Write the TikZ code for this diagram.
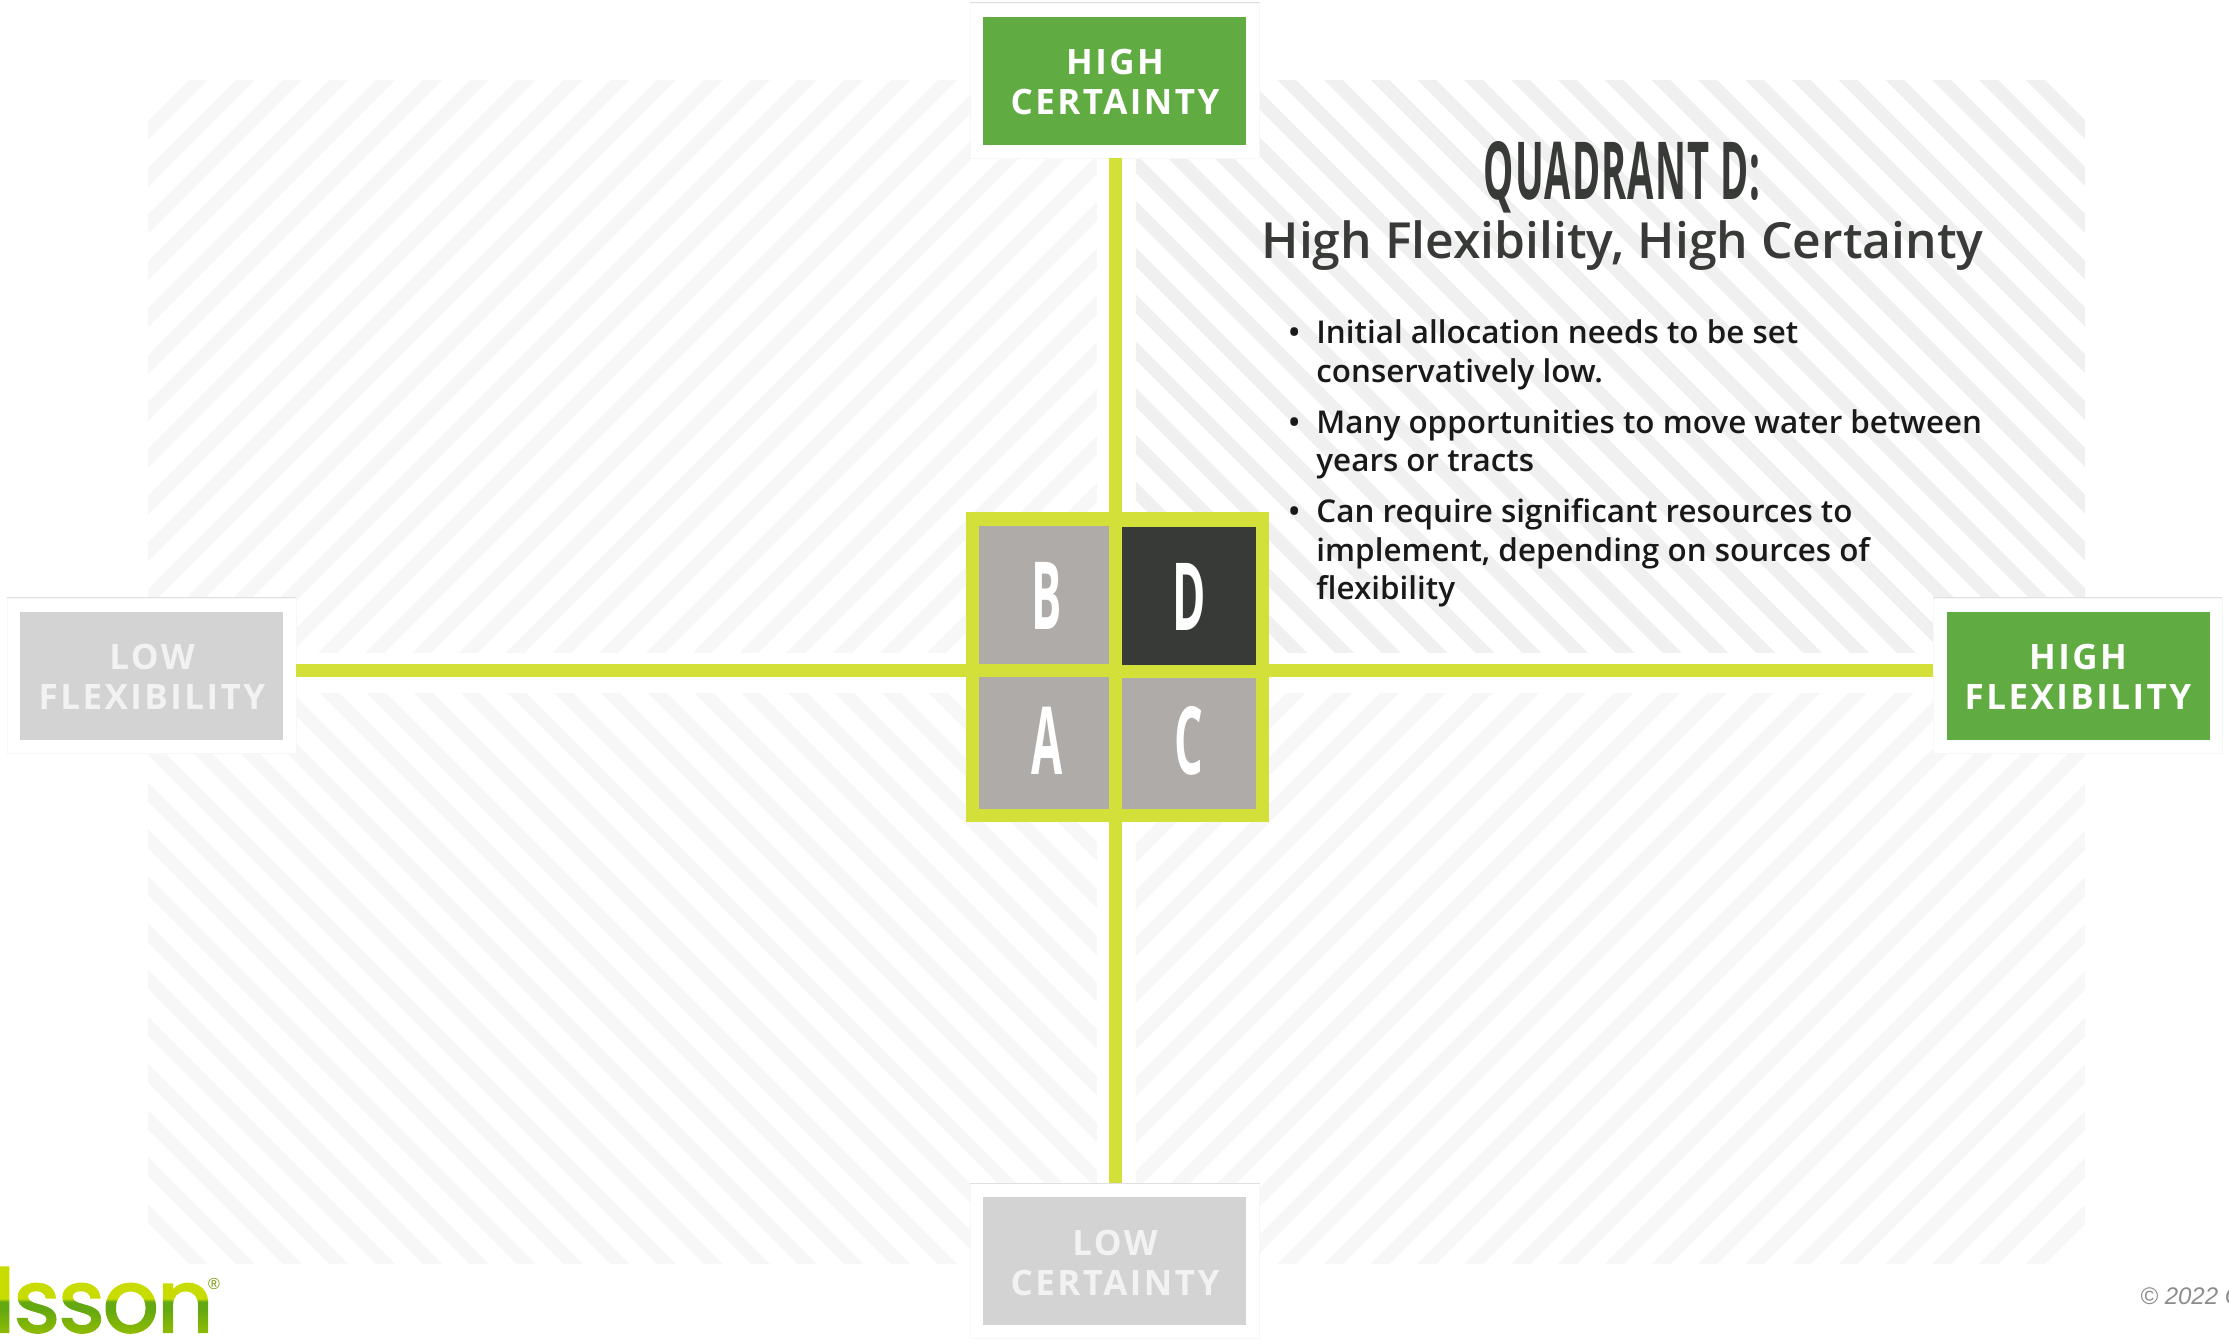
\documentclass[tikz,border=0pt]{standalone}
\usepackage{fontspec}
\setmainfont{Open Sans}
\newfontfamily\labfont[LetterSpace=7]{Open Sans}
\newfontface\semib{Open Sans Semibold}
\newfontfamily\condb{Open Sans}
\newfontfamily\titlefont[LetterSpace=3]{Open Sans}
\newfontfamily\logofont[LetterSpace=-3.8]{Poppins Medium}
\newfontfamily\copyfont{Liberation Sans}
\definecolor{lime}{HTML}{D4E03A}
\definecolor{leaf}{HTML}{61AB43}
\definecolor{pale}{HTML}{D3D3D3}
\definecolor{cellgray}{HTML}{AFABA8}
\definecolor{celldark}{HTML}{383A37}
\definecolor{stripeA}{HTML}{F7F7F7}
\definecolor{stripeB}{HTML}{F0F0F0}
\definecolor{lgA}{HTML}{90BC00}
\definecolor{lgB}{HTML}{64A812}
\definecolor{lgC}{HTML}{C8DC00}
\pgfdeclareverticalshading{logoshade}{100bp}{color(0bp)=(lgA); color(26bp)=(lgA); color(42bp)=(lgB); color(47bp)=(lgB); color(49bp)=(lgC); color(100bp)=(lgC)}
\tikzset{
  labelbox/.style={draw=black!3,line width=.3pt,fill=white,minimum width=144.5pt,minimum height=77.5pt,inner sep=0pt},
  labelfill/.style={fill=#1,minimum width=131.5pt,minimum height=64pt,inner sep=0pt},
  labeltext/.style={text=#1,align=center,inner sep=0pt,font=\labfont\bfseries\fontsize{17.5}{20}\selectfont},
  edgeline/.style={black!12,line width=.4pt},
  axisline/.style={draw=lime,line width=6.5pt},
  cellletter/.style={text=white,inner sep=0pt,font=\condb\bfseries\fontsize{47}{47}\selectfont},
  bullettext/.style={anchor=base west,inner sep=0pt,text=black!90,font=\semib\fontsize{15.7}{19}\selectfont},
}
\newcommand{\stripeset}[8]{%
  \begin{scope}
    \clip #1;
    \foreach \k in {#6,...,#7}{
      \pgfmathsetmacro{\xa}{#3+46.8*\k}
      \pgfmathsetmacro{\xb}{\xa+19}
      \pgfmathsetmacro{\xc}{\xb+#4*640}
      \pgfmathsetmacro{\xd}{\xa+#4*640}
      \pgfmathsetmacro{\ye}{#2+#5*640}
      \fill[#8] (\xa,#2) -- (\xb,#2) -- (\xc,\ye) -- (\xd,\ye) -- cycle;
    }
  \end{scope}}
\begin{document}
\begin{tikzpicture}[x=0.5pt,y=-0.5pt]
\useasboundingbox (0,0) rectangle (2229,1341);
% striped field
\begin{scope}
  \clip[rounded corners=20pt] (148,80) rectangle (2085,1265);
  \stripeset{(148,80) rectangle (1097,652)}{80}{236}{-1}{1}{-3}{32}{stripeA}
  \stripeset{(1136,80) rectangle (2085,652)}{80}{1277}{1}{1}{-17}{18}{stripeB}
  \stripeset{(148,693) rectangle (1097,1265)}{1264}{236}{-1}{-1}{-3}{32}{stripeA}
  \stripeset{(1136,693) rectangle (2085,1265)}{1264}{1277}{1}{-1}{-17}{18}{stripeA}
\end{scope}
% label boxes
\node[labelbox] (topbox) at (1115,80.5) {};
\node[labelbox] (botbox) at (1115,1261) {};
\node[labelbox] (leftbox) at (151.5,675.5) {};
\node[labelbox] (rightbox) at (2077.5,675.5) {};
\draw[edgeline] (topbox.north west) -- (topbox.north east);
\draw[edgeline] (botbox.north west) -- (botbox.north east);
\draw[edgeline] (leftbox.north west) -- (leftbox.north east);
\draw[edgeline] (rightbox.north west) -- (rightbox.north east);
\node[labelfill=leaf] (topfill) at (1114.5,81) {};
\node[labelfill=pale] (botfill) at (1114.5,1261) {};
\node[labelfill=pale] (leftfill) at (151.5,676) {};
\node[labelfill=leaf] (rightfill) at (2078,676) {};
\node[labeltext=white] (toptext) at (1115,82) {HIGH\\CERTAINTY};
\node[labeltext=white!95!black] (bottext) at (1115,1263) {LOW\\CERTAINTY};
\node[labeltext=white!95!black] (lefttext) at (152,677) {LOW\\FLEXIBILITY};
\node[labeltext=white] (righttext) at (2078,677) {HIGH\\FLEXIBILITY};
% axes
\coordinate (axisx) at (1115.5,670.5);
\draw[axisline] (topbox.south -| axisx) -- (botbox.north -| axisx);
\draw[axisline] (leftbox.east |- axisx) -- (rightbox.west |- axisx);
% centre block
\fill[lime] (966,512) rectangle (1269,822);
\fill[cellgray] (979,525.5) rectangle (1109,664);
\fill[celldark] (1121.5,526.5) rectangle (1256,665);
\fill[cellgray] (979,677) rectangle (1109,809);
\fill[cellgray] (1121.5,678) rectangle (1256,809);
\node[cellletter] (letterB) at (1047,595.5) {\scalebox{.48}[1]{B}};
\node[cellletter] (letterD) at (1189,596.5) {\scalebox{.48}[1]{D}};
\node[cellletter] (letterA) at (1047,740.5) {\scalebox{.48}[1]{A}};
\node[cellletter] (letterC) at (1189,740.5) {\scalebox{.48}[1]{C}};
% heading
\node[anchor=base,inner sep=0pt,text=celldark,font=\titlefont\bfseries\fontsize{40}{40}\selectfont] (heading) at (1622,199) {\scalebox{.476}[1]{QUADRANT D:}};
\node[anchor=base,inner sep=0pt,text=celldark,font=\semib\fontsize{24.9}{25}\selectfont] (subheading) at (1622.5,258.5) {High Flexibility, High Certainty};
% bullets
\node[bullettext] (b1) at (1288,343.7) {•};
\node[bullettext] (b2) at (1288,433) {•};
\node[bullettext] (b3) at (1288,522.7) {•};
\node[bullettext] (t1) at (1316,343.7) {Initial allocation needs to be set};
\node[bullettext] (t2) at (1316,382) {conservatively low.};
\node[bullettext] (t3) at (1316,433) {Many opportunities to move water between};
\node[bullettext] (t4) at (1316,471.7) {years or tracts};
\node[bullettext] (t5) at (1316,522.7) {Can require significant resources to};
\node[bullettext] (t6) at (1316,561) {implement, depending on sources of};
\node[bullettext] (t7) at (1316,599.3) {flexibility};
% logo
\node[anchor=base west,inner sep=0pt,font=\logofont\fontsize{45}{45}\selectfont] (logo) at (-8,1333) {\special{pdf:code 7 Tr}lsson\special{pdf:code 0 Tr}\llap{\tikz[baseline=0pt]\shade[shading=logoshade] (0pt,-1pt) rectangle (130pt,37pt);}};
\node[inner sep=0pt,text=lgA!80!black,font=\copyfont\fontsize{8}{8}\selectfont] (reg) at (214,1284) {®};
% copyright
\node[anchor=base west,inner sep=0pt,text=black!45,font=\copyfont\itshape\fontsize{12}{12}\selectfont] (copy) at (2140,1304) {© 2022 C};
\end{tikzpicture}
\end{document}
